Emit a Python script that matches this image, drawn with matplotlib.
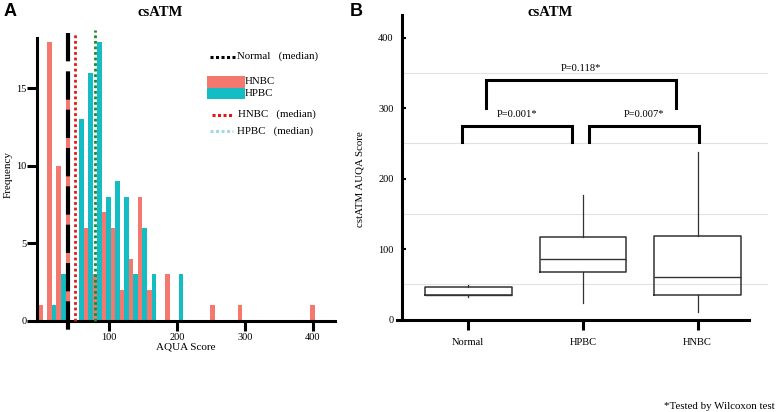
import matplotlib.pyplot as plt
from matplotlib.lines import Line2D
from matplotlib.patches import Rectangle

# ================================ data ======================================

# panel A: histogram of AQUA scores, one salmon and one teal bar per bin
bin_left = [-4, 9.33, 22.67, 36, 49.33, 62.67, 76, 89.33, 102.67, 116,
            129.33, 142.67, 156, 182.67, 196, 249.33, 289.33, 396]
hnbc_counts = [1, 18, 10, 16, 0, 6, 3, 7, 6, 2, 4, 8, 2, 3, 0, 1, 1, 1]
hpbc_counts = [0, 1, 3, 0, 13, 16, 18, 8, 9, 8, 3, 6, 3, 0, 3, 0, 0, 0]
bin_width = 13.33

normal_median = 40
hnbc_median = 50
hpbc_median = 80

# panel B: box plots
groups = ['Normal', 'HPBC', 'HNBC']
whislo = [32, 24, 10]
q1 = [35, 67, 35]
med = [35, 85.5, 61]
q3 = [46.5, 117, 118]
whishi = [49, 177, 238]

pvals = ['P=0.001*', 'P=0.007*', 'P=0.118*']
bracket_x = [(0.948, 1.902), (2.056, 3.013), (1.154, 2.812)]
bracket_top = [275, 275, 340]
bracket_bottom = [252, 252, 300]

SALMON = '#F5786E'
TEAL = '#14BCC4'
SERIF = 'Liberation Serif'

W, H = 777, 412


def fx(px):
    return px / W


def fy(py):
    return 1 - py / H


plt.rcParams['font.family'] = SERIF
fig = plt.figure(figsize=(W / 100, H / 100), dpi=100)

# ================================ panel A ===================================

ax = fig.add_axes([fx(37), fy(320.7), fx(335) - fx(37), fy(38) - fy(320.7)])
half = bin_width / 2
ax.bar([b for b in bin_left], hnbc_counts, width=half, align='edge',
       color=SALMON, linewidth=0, zorder=2)
ax.bar([b + half for b in bin_left], hpbc_counts, width=half, align='edge',
       color=TEAL, linewidth=0, zorder=2)

ax.plot([normal_median, normal_median], [18.56, -0.8], color='black', lw=3,
        dashes=(6.8, 2.4), clip_on=False, zorder=4, solid_capstyle='butt')
ax.plot([hnbc_median, hnbc_median], [0, 18.56], color='#E01818', lw=2,
        linestyle=(0, (1, 1)), clip_on=False, zorder=4)
ax.plot([hpbc_median, hpbc_median], [0, 18.75], color='#1A8A2A', lw=2,
        linestyle=(0, (1, 1)), clip_on=False, zorder=4)

ax.set_xlim(-6, 432.8)
ax.set_ylim(0, 18.24)
ax.set_xticks([100, 200, 300, 400])
ax.set_yticks([0, 5, 10, 15])
for s in ['top', 'right']:
    ax.spines[s].set_visible(False)
for s in ['left', 'bottom']:
    ax.spines[s].set_linewidth(2.2)
ax.tick_params(axis='both', length=7, width=2.2, labelsize=7.5, pad=2)
ax.tick_params(axis='y', pad=0.5)
ax.set_xlabel('AQUA Score', fontsize=8, labelpad=0)
fig.text(fx(8), fy(175), 'Frequency', rotation=90, fontsize=8,
         ha='center', va='center')
fig.text(fx(160.5), fy(12.7), 'csATM', fontsize=10.5, fontweight='bold',
         ha='center', va='center')
fig.text(fx(10), fy(11), 'A', fontsize=13, fontweight='bold',
         family='Liberation Sans', ha='center', va='center')

# legend drawn by hand to match the loose layout
def leg_line(x0, x1, y, color, lw):
    fig.add_artist(Line2D([fx(x0), fx(x1)], [fy(y), fy(y)], color=color,
                          lw=lw, linestyle=(0, (1, 0.8))))


leg_line(210, 235, 56.5, 'black', 2.2)
fig.text(fx(237), fy(56.5), 'Normal   (median)', fontsize=7.8, va='center')
fig.add_artist(Rectangle((fx(207), fy(88)), fx(38), fy(0) - fy(12),
                         color=SALMON, lw=0))
fig.add_artist(Rectangle((fx(207), fy(99)), fx(38), fy(0) - fy(11),
                         color=TEAL, lw=0))
fig.text(fx(245), fy(81.5), 'HNBC', fontsize=7.8, va='center')
fig.text(fx(245), fy(93.5), 'HPBC', fontsize=7.8, va='center')
leg_line(212, 234, 114.7, '#E01818', 2.2)
fig.text(fx(238), fy(114.5), 'HNBC   (median)', fontsize=7.8, va='center')
leg_line(210, 233, 130.7, '#A8D8E6', 2.2)
fig.text(fx(237), fy(131), 'HPBC   (median)', fontsize=7.8, va='center')

# ================================ panel B ===================================

bx = fig.add_axes([fx(402), fy(319.5), fx(768) - fx(402), fy(15) - fy(319.5)])
for y in [50, 150, 250, 350]:
    bx.axhline(y, color='#e2e2e2', lw=0.8, zorder=0)

stats = [dict(label=g, whislo=lo, q1=a, med=m, q3=b, whishi=hi)
         for g, lo, a, m, b, hi in zip(groups, whislo, q1, med, q3, whishi)]
bx.bxp(stats, positions=[1, 2, 3], widths=0.755, showfliers=False,
       showcaps=False,
       boxprops=dict(color='#333333', lw=1.1),
       whiskerprops=dict(color='#333333', lw=0.9),
       medianprops=dict(color='#333333', lw=1.0))

for (x0, x1), top, bot, lab in zip(bracket_x, bracket_top, bracket_bottom, pvals):
    bx.plot([x0, x0, x1, x1], [bot, top, top, bot], color='black', lw=2.2,
            solid_joinstyle='miter', clip_on=False)
    bx.text((x0 + x1) / 2, top + 16, lab, fontsize=7.6, ha='center',
            va='center')

bx.set_xlim(0.4215, 3.615)
bx.set_ylim(0, 432.5)
bx.set_yticks([0, 100, 200, 300, 400])
bx.set_xticks([1, 2, 3])
bx.set_xticklabels(groups)
for s in ['top', 'right']:
    bx.spines[s].set_visible(False)
bx.spines['left'].set_linewidth(2.2)
bx.spines['bottom'].set_linewidth(2.2)
bx.spines['bottom'].set_bounds(0.38, 3.45)
bx.tick_params(axis='y', direction='in', length=3, width=1.5, pad=6,
               labelsize=7.5)
bx.tick_params(axis='x', length=7, width=2.2, pad=6, labelsize=7.6)
fig.text(fx(360), fy(179), 'cstATM AUQA Score', rotation=90, fontsize=7.8,
         ha='center', va='center')
fig.text(fx(550.5), fy(12.7), 'csATM', fontsize=10.5, fontweight='bold',
         ha='center', va='center')
fig.text(fx(356.5), fy(11), 'B', fontsize=13, fontweight='bold',
         family='Liberation Sans', ha='center', va='center')

fig.text(fx(775), fy(406.5), '*Tested by Wilcoxon test', fontsize=7.8,
         ha='right', va='center')

fig.savefig('out.png', dpi=100)
